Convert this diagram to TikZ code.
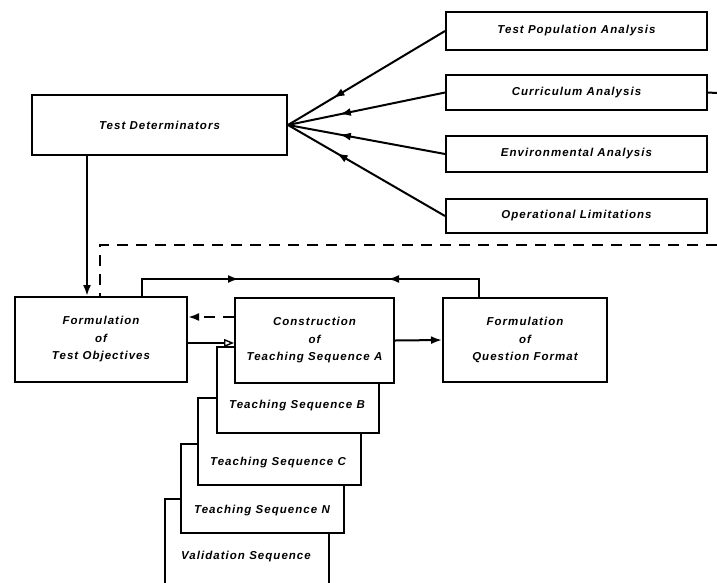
\documentclass[tikz,border=0pt]{standalone}
\usepackage{fontspec}
\setmainfont{Liberation Sans}[LetterSpace=9]
\usetikzlibrary{arrows.meta,decorations.markings}
\newcommand\boxfont{\fontsize{11.5}{17.5}\selectfont\bfseries\itshape}
\begin{document}
\begin{tikzpicture}[x=1pt,y=-1pt,
  box/.style={draw, line width=2pt, fill=white, inner sep=0pt, font=\boxfont, align=center},
  boxtext/.style={inner sep=0pt, font=\boxfont, align=center},
  conn/.style={line width=2pt},
  tip/.tip={Latex[length=11pt,width=8pt]},
  opentip/.tip={Triangle[open,length=10pt,width=8pt,line width=1.4pt]},
  dashline/.style={dash pattern=on 11pt off 8pt},
  midrev/.style={postaction=decorate, decoration={markings,
     mark=at position #1 with {\arrowreversed{tip}}}}]
\useasboundingbox (0,0) rectangle (717,582);
\clip (0,0) rectangle (717,582);

% determinant boxes
\node[box, minimum width=255, minimum height=60] (td) at (159.5,125) {Test Determinators};
\node[box, minimum width=261, minimum height=38] (tpa) at (576.5,31) {Test Population Analysis};
\node[box, minimum width=261, minimum height=35] (ca) at (576.5,92.5) {Curriculum Analysis};
\node[box, minimum width=261, minimum height=36] (ea) at (576.5,154) {Environmental Analysis};
\node[box, minimum width=261, minimum height=34] (ol) at (576.5,216) {Operational Limitations};

% stacked sequences, back to front
\node[box, minimum width=164, minimum height=110, anchor=north west] (vs) at (164,498) {};
\node[boxtext] (vst) at (246,557) {Validation Sequence};
\node[box, minimum width=163, minimum height=89, anchor=north west] (tsn) at (180,443) {};
\node[boxtext] (tsnt) at (262,511) {Teaching Sequence N};
\node[box, minimum width=163, minimum height=87, anchor=north west] (tsc) at (197,397) {};
\node[boxtext] (tsct) at (278,463) {Teaching Sequence C};
\node[box, minimum width=162, minimum height=86, anchor=north west] (tsb) at (216,346) {};
\node[boxtext] (tsbt) at (297,406) {Teaching Sequence B};

% main row
\node[box, minimum width=159, minimum height=85] (cta) at (314.5,340.5) {Construction\\of\\Teaching Sequence A};
\node[box, minimum width=172, minimum height=85] (fto) at (101,339.5) {Formulation\\of\\Test Objectives};
\node[box, minimum width=164, minimum height=84] (fqf) at (525,340) {Formulation\\of\\Question Format};

% fan of inputs into the determinators
\foreach \n/\p in {tpa/0.29, ca/0.33, ea/0.33, ol/0.31}
  \draw[conn, midrev=\p] (td.east) -- (\n.west);
\coordinate (castub) at (717,93);
\draw[conn] (ca.east) -- (castub);

% determinators down to objectives
\coordinate (xA) at (87,0);
\draw[conn, -{tip}] (td.south -| xA) -- (fto.north -| xA);

% dashed feedback line
\coordinate (dR) at (717,245);
\coordinate (dC) at (100,245);
\draw[conn, dashline] (dR) -- (dC) -- (fto.north -| dC);

% upper loop between objectives and question format
\coordinate (lpL) at (142,279);
\coordinate (lpR) at (479,279);
\draw[conn, postaction=decorate, decoration={markings,
    mark=at position 114pt with {\arrow{tip}},
    mark=at position 263pt with {\arrowreversed{tip}}}]
  (fto.north -| lpL) -- (lpL) -- (lpR) -- (fqf.north -| lpR);

% links between the main row boxes
\coordinate (yD) at (0,317);
\draw[conn, dashline, -{tip}] (cta.west |- yD) -- (fto.east |- yD);
\coordinate (yS) at (0,343);
\draw[conn, -{opentip}] (fto.east |- yS) -- (cta.west |- yS);
\draw[conn, -{tip}] (cta.east) -- (fqf.west);
\end{tikzpicture}
\end{document}
